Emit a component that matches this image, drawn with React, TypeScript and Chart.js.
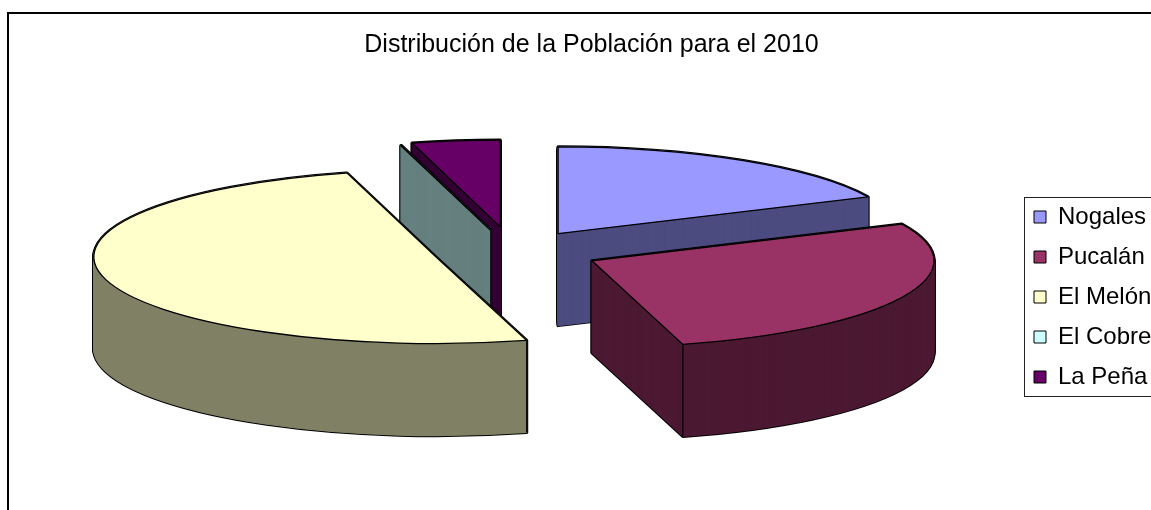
import React, { useEffect, useRef } from "react";
import { Chart, registerables } from "chart.js";

Chart.register(...registerables);

const TITLE = "Distribución de la Población para el 2010";
const categories = ["Nogales", "Pucalán", "El Melón", "El Cobre", "La Peña"];
// shares of the population, in percent
const values = [18.05, 27.67, 50.1, 0.03, 4.15];
const topColors = ["#9999FF", "#993366", "#FFFFCC", "#CCFFFF", "#660066"];
const wallColors = ["#4C4C80", "#4C1933", "#808066", "#668080", "#330033"];
// how far each slice is pulled out of the pie
const explode = [84, 87, 80, 90, 98];

const W = 1151;
const H = 510;
const CX = 513;
const CY = 251.5;
const RADIUS = 342;
const TILT = 0.2536;
const DEPTH = 92;
const FONT = "'Liberation Sans', Arial, sans-serif";

const pie3d = {
  id: "pie3d",
  afterLayout(chart: any) {
    const l = chart.legend;
    l.left = 1018;
    l.right = W + 20;
    l.top = 189;
    l.bottom = 430;
    const t = chart.titleBlock;
    t.left = 292;
    t.right = 891;
    t.top = 30;
    t.bottom = 62;
  },
  beforeDatasetDraw(chart: any, args: any) {
    const ctx = chart.ctx;
    const arcs: any[] = [...args.meta.data];
    const mid = (a: any) => (a.startAngle + a.endAngle) / 2;
    // paint from the back of the tilted disc to the front
    arcs.sort((p, q) => Math.sin(mid(p)) - Math.sin(mid(q)));

    const origStroke = ctx.stroke;
    ctx.stroke = function (...s: any[]) {
      ctx.save();
      ctx.setTransform(1, 0, 0, 1, 0, 0);
      origStroke.apply(ctx, s);
      ctx.restore();
    };

    for (const arc of arcs) {
      const i = args.meta.data.indexOf(arc);
      const m = mid(arc);
      const pull = explode[i];
      const paint = (dy: number, fill: string, stroke: string, width: number) => {
        const saved = arc.options;
        arc.options = Object.assign(Object.create(saved), {
          backgroundColor: fill,
          borderColor: stroke,
          borderWidth: width,
          borderJoinStyle: "round",
        });
        ctx.save();
        ctx.translate(CX, CY + dy);
        ctx.scale(1, TILT);
        ctx.translate(Math.cos(m) * pull - arc.x, Math.sin(m) * pull - arc.y);
        arc.draw(ctx);
        ctx.restore();
        arc.options = saved;
      };
      for (let k = DEPTH; k >= 0; k--) paint(k, "#000000", "#000000", 3.2);
      for (let k = DEPTH; k >= 0; k--) paint(k, wallColors[i], wallColors[i], 1.2);
      // crease where the rim of a slice meets its cut face at the front
      for (const a of [arc.startAngle, arc.endAngle]) {
        if (Math.sin(a) <= 0) continue;
        const x = CX + Math.cos(m) * pull + Math.cos(a) * RADIUS;
        const y = CY + (Math.sin(m) * pull + Math.sin(a) * RADIUS) * TILT;
        ctx.save();
        ctx.strokeStyle = "#000";
        ctx.lineWidth = 1.2;
        ctx.beginPath();
        ctx.moveTo(x, y);
        ctx.lineTo(x, y + DEPTH);
        ctx.stroke();
        ctx.restore();
      }
      paint(0, topColors[i], "#000000", 1.3);
    }
    delete ctx.stroke;
    return false;
  },
  afterDraw(chart: any) {
    const ctx = chart.ctx;
    ctx.save();
    ctx.strokeStyle = "#000";
    ctx.lineWidth = 2;
    ctx.beginPath();
    ctx.moveTo(8, H);
    ctx.lineTo(8, 13);
    ctx.lineTo(W, 13);
    ctx.stroke();
    ctx.strokeStyle = "#222";
    ctx.lineWidth = 1;
    ctx.strokeRect(1024.5, 197.5, 200, 199);
    ctx.restore();
  },
};

export default function App() {
  const ref = useRef<HTMLCanvasElement>(null);
  useEffect(() => {
    const chart = new Chart(ref.current!, {
      type: "pie",
      data: {
        labels: categories,
        datasets: [
          {
            data: values,
            backgroundColor: topColors,
            borderColor: "#000000",
            borderWidth: 1,
          },
        ],
      },
      options: {
        animation: false,
        responsive: false,
        events: [],
        radius: RADIUS,
        plugins: {
          tooltip: { enabled: false },
          title: {
            display: true,
            text: TITLE,
            color: "#000",
            padding: 0,
            font: { family: FONT, size: 25, weight: "normal", lineHeight: 1.2 },
          },
          legend: {
            display: true,
            position: "right",
            align: "start",
            labels: {
              color: "#000",
              boxWidth: 12,
              boxHeight: 12,
              padding: 16,
              font: { family: FONT, size: 24, lineHeight: 1.2 },
            },
          },
        },
      } as any,
      plugins: [pie3d as any],
    });
    return () => chart.destroy();
  }, []);
  return (
    <canvas
      ref={ref}
      width={W}
      height={H}
      style={{ position: "fixed", left: 0, top: 0, display: "block" }}
    />
  );
}
